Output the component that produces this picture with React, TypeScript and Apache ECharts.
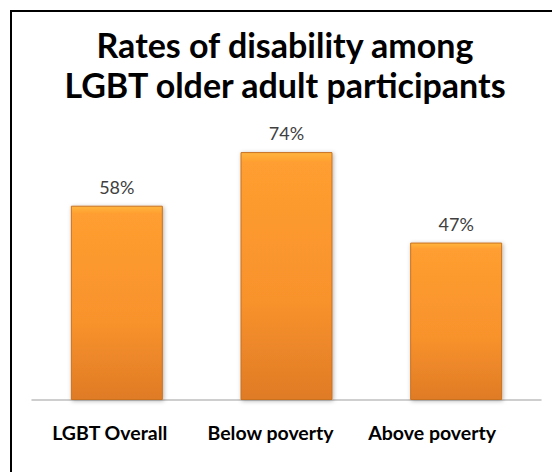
import React, { useEffect, useRef } from "react";
import * as echarts from "echarts";

const categories = ["LGBT Overall", "Below poverty", "Above poverty"];
const rates = [58, 74, 47];
const titleText = "Rates of disability among\nLGBT older adult participants";
const labelStyles = ["c0", "c1", "c2"];

export default function App() {
  const ref = useRef<HTMLDivElement>(null);
  useEffect(() => {
    if (!ref.current) return;
    const chart = echarts.init(ref.current, undefined, { renderer: "svg" });
    const base = {
      fontFamily: "Lato",
      fontWeight: "bold",
      fontSize: 19.5,
      color: "#000000",
    };
    chart.setOption({
      animation: false,
      backgroundColor: "#ffffff",
      title: {
        text: titleText,
        left: 280,
        textAlign: "center",
        top: 19,
        textStyle: {
          fontFamily: "Lato",
          fontWeight: "bold",
          fontSize: 34,
          lineHeight: 40,
          color: "#000000",
        },
      },
      graphic: [
        {
          type: "polyline",
          shape: { points: [[11, 472], [11, 11], [552, 11]] },
          style: { stroke: "#000000", lineWidth: 2, fill: "none" },
        },
      ],
      grid: { left: 32, right: 11, top: 132, bottom: 72 },
      xAxis: {
        type: "category",
        data: categories,
        axisLine: { lineStyle: { color: "#BFBFBF", width: 1.5 } },
        axisTick: { show: false },
        axisLabel: {
          interval: 0,
          hideOverlap: false,
          margin: 22,
          ...base,
          formatter: (v: string, i: number) => `{${labelStyles[i]}|${v}}`,
          rich: {
            c0: { ...base, padding: [0, 14, 0, 0] },
            c1: { ...base, padding: [0, 32, 0, 0] },
            c2: { ...base, padding: [0, 48, 0, 0] },
          },
        },
      },
      yAxis: {
        type: "value",
        min: 0,
        max: 80,
        show: false,
        splitLine: { show: false },
      },
      series: [
        {
          type: "bar",
          data: rates,
          barWidth: 92,
          itemStyle: {
            color: new echarts.graphic.LinearGradient(0, 0, 0, 1, [
              { offset: 0, color: "#FFB53E" },
              { offset: 0.04, color: "#FF9E30" },
              { offset: 0.6, color: "#F8922C" },
              { offset: 1, color: "#E07B26" },
            ]),
            borderColor: "#C9711F",
            borderWidth: 1,
            shadowColor: "rgba(0,0,0,0.3)",
            shadowBlur: 4,
            shadowOffsetX: 1,
            shadowOffsetY: 1,
          },
          label: {
            show: true,
            position: "top",
            distance: 10,
            formatter: "{c}%",
            fontFamily: "Lato",
            fontSize: 18,
            color: "#404040",
          },
        },
      ],
    });
    return () => chart.dispose();
  }, []);
  return (
    <div
      ref={ref}
      style={{ position: "fixed", left: 0, top: 0, width: 552, height: 472 }}
    />
  );
}
